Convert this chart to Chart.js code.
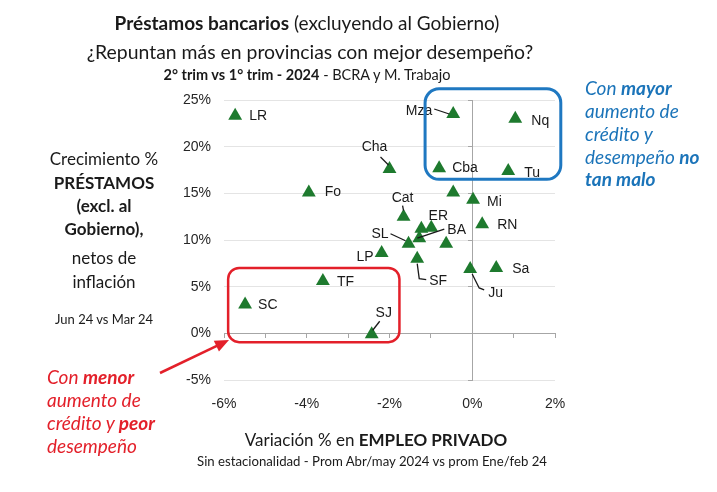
<!DOCTYPE html>
<html>
<head>
<meta charset="utf-8">
<script src="https://cdn.jsdelivr.net/npm/chart.js@4.4.1/dist/chart.umd.min.js"></script>
<style>
  body { margin: 0; background: #fff; }
  #wrap { position: relative; width: 717px; height: 492px; overflow: hidden; font-family: Lato, "Open Sans", sans-serif; color: #1a1a1a; }
  #wrap canvas { position: absolute; left: 0; top: 0; }
  .t { position: absolute; white-space: nowrap; }
  .c { transform: translateX(-50%); }
  .red { color: #e3202a; font-style: italic; }
  .blue { color: #1b74b9; font-style: italic; }
</style>
</head>
<body>
<div id="wrap">
  <canvas id="chart" width="717" height="492"></canvas>

  <div class="t c" style="left:307px;top:11px;font-size:19px;line-height:24px"><b>Préstamos bancarios</b> (excluyendo al Gobierno)</div>
  <div class="t c" style="left:310px;top:39px;font-size:19.4px;line-height:26px">¿Repuntan más en provincias con mejor desempeño?</div>
  <div class="t c" style="left:307px;top:66px;font-size:14.5px;line-height:18px"><b>2° trim vs 1° trim - 2024</b> - BCRA y M. Trabajo</div>

  <div class="t c" style="left:104px;top:148px;font-size:17px;line-height:22px">Crecimiento %</div>
  <div class="t c" style="left:104px;top:172px;font-size:17px;line-height:22px"><b>PRÉSTAMOS</b></div>
  <div class="t c" style="left:104px;top:195px;font-size:17px;line-height:22px"><b>(excl. al</b></div>
  <div class="t c" style="left:104px;top:218px;font-size:17px;line-height:22px"><b>Gobierno),</b></div>
  <div class="t c" style="left:104px;top:247px;font-size:17px;line-height:22px">netos de</div>
  <div class="t c" style="left:104px;top:271px;font-size:17px;line-height:22px">inflación</div>
  <div class="t c" style="left:104px;top:311px;font-size:13px;line-height:16px">Jun 24 vs Mar 24</div>

  <div class="t red" style="left:47px;top:366px;font-size:19px;line-height:22px">Con <b>menor</b></div>
  <div class="t red" style="left:47px;top:389px;font-size:19px;line-height:22px">aumento de</div>
  <div class="t red" style="left:47px;top:412px;font-size:19px;line-height:22px">crédito y <b>peor</b></div>
  <div class="t red" style="left:47px;top:435px;font-size:19px;line-height:22px">desempeño</div>

  <div class="t blue" style="left:585px;top:77px;font-size:19px;line-height:22px">Con <b>mayor</b></div>
  <div class="t blue" style="left:585px;top:100px;font-size:19px;line-height:22px">aumento de</div>
  <div class="t blue" style="left:585px;top:123px;font-size:19px;line-height:22px">crédito y</div>
  <div class="t blue" style="left:585px;top:146px;font-size:19px;line-height:22px">desempeño <b>no</b></div>
  <div class="t blue" style="left:585px;top:168px;font-size:19px;line-height:22px"><b>tan malo</b></div>

  <div class="t c" style="left:376px;top:428px;font-size:17px;line-height:24px">Variación % en <b>EMPLEO PRIVADO</b></div>
  <div class="t c" style="left:372px;top:453px;font-size:13.2px;line-height:16px">Sin estacionalidad - Prom Abr/may 2024 vs prom Ene/feb 24</div>
</div>

<script>
// Provinces (empty name = point without a label in the original)
const provinces = ['LR', 'Fo', 'Cha', 'Mza', 'Nq', 'Cba', 'Tu', '', 'Mi', 'Cat', 'ER', '', 'BA',
                   'RN', 'SL', '', 'LP', 'SF', 'Ju', 'Sa', 'TF', 'SC', 'SJ'];

// Private employment change, % (x)
const employmentChange = [-5.73, -3.95, -2.0, -0.46, 1.04, -0.80, 0.87, -0.46, 0.02, -1.66, -0.99, -1.23, -1.28,
                          0.24, -1.54, -0.63, -2.19, -1.33, -0.05, 0.58, -3.61, -5.49, -2.43];

// Loan growth net of inflation, % (y)
const loanGrowth = [23.3, 15.1, 17.6, 23.5, 23.0, 17.7, 17.4, 15.1, 14.3, 12.5, 11.3, 11.2, 10.2,
                    11.7, 9.6, 9.6, 8.6, 8.0, 6.9, 7.0, 5.6, 3.1, -0.1];

// Tick labels
const xTicks = [-6, -4, -2, 0, 2];
const yTicks = [-5, 0, 5, 10, 15, 20, 25];

// Where each province label sits relative to its point (pixels), plus optional leader line
const labelLayout = {
  LR:  { dx: 14, dy: 0 },
  Fo:  { dx: 16, dy: 0 },
  Cha: { dx: -15, dy: -22, align: 'center', line: [[-9, -12], [-1, -4]] },
  Mza: { dx: -21, dy: -3, align: 'right', line: [[-19, -5], [-4, 0]] },
  Nq:  { dx: 16, dy: 2 },
  Cba: { dx: 13, dy: 0 },
  Tu:  { dx: 16, dy: 2 },
  Mi:  { dx: 14, dy: 2 },
  Cat: { dx: -1, dy: -19, align: 'center', line: [[-1, -11], [0, -6]] },
  ER:  { dx: 7, dy: -12, align: 'center' },
  BA:  { dx: 28, dy: -8, line: [[25, -9], [-2, 0]] },
  RN:  { dx: 15, dy: 1 },
  SL:  { dx: -20, dy: -10, align: 'right', line: [[-18, -10], [-3, -3]] },
  LP:  { dx: -8, dy: 4, align: 'right' },
  SF:  { dx: 12, dy: 22, line: [[0, 5], [2, 20], [9, 21]] },
  Ju:  { dx: 18, dy: 24, line: [[2, 5], [9, 19], [14, 21]] },
  Sa:  { dx: 16, dy: 1 },
  TF:  { dx: 14, dy: 1 },
  SC:  { dx: 13, dy: 1 },
  SJ:  { dx: 12, dy: -21, align: 'center', line: [[8, -13], [1, -4]] }
};

const tickFont = { family: '"Liberation Sans", Arial, sans-serif', size: 14 };
const axisGray = '#a6a6a6';

// Province labels with leader lines
const pointLabels = {
  id: 'pointLabels',
  afterDatasetsDraw(chart) {
    const ctx = chart.ctx;
    const meta = chart.getDatasetMeta(0);
    ctx.save();
    ctx.font = '14px "Liberation Sans", Arial, sans-serif';
    ctx.textBaseline = 'middle';
    ctx.fillStyle = '#1a1a1a';
    ctx.strokeStyle = '#1a1a1a';
    ctx.lineWidth = 1.3;
    meta.data.forEach((pt, i) => {
      const name = provinces[i];
      const lay = labelLayout[name];
      if (!lay) return;
      if (lay.line) {
        ctx.beginPath();
        lay.line.forEach(([lx, ly], k) => {
          if (k === 0) ctx.moveTo(pt.x + lx, pt.y + ly);
          else ctx.lineTo(pt.x + lx, pt.y + ly);
        });
        ctx.stroke();
      }
      ctx.textAlign = lay.align || 'left';
      ctx.fillText(name, pt.x + lay.dx, pt.y + lay.dy);
    });
    ctx.restore();
  }
};

// Rounded highlight boxes (in data units) and the red arrow
const highlightBoxes = [
  { x0: -5.9, x1: -1.76, y0: 7.0, y1: -0.95, color: '#e3202a', width: 2.5, r: 11 },
  { x0: -1.14, x1: 2.14, y0: 26.2, y1: 16.5, color: '#1f78c1', width: 3, r: 14 }
];

function roundRect(ctx, x, y, w, h, r) {
  ctx.beginPath();
  ctx.moveTo(x + r, y);
  ctx.arcTo(x + w, y, x + w, y + h, r);
  ctx.arcTo(x + w, y + h, x, y + h, r);
  ctx.arcTo(x, y + h, x, y, r);
  ctx.arcTo(x, y, x + w, y, r);
  ctx.closePath();
}

const annotations = {
  id: 'annotations',
  afterDraw(chart) {
    const ctx = chart.ctx;
    const xs = chart.scales.x, ys = chart.scales.y;
    ctx.save();
    highlightBoxes.forEach(b => {
      const left = xs.getPixelForValue(b.x0), right = xs.getPixelForValue(b.x1);
      const top = ys.getPixelForValue(b.y0), bottom = ys.getPixelForValue(b.y1);
      ctx.strokeStyle = b.color;
      ctx.lineWidth = b.width;
      roundRect(ctx, left, top, right - left, bottom - top, b.r);
      ctx.stroke();
    });
    // red arrow pointing to the low-low box
    const ax = 160, ay = 373, bx = 229, by = 340;
    const ang = Math.atan2(by - ay, bx - ax);
    ctx.strokeStyle = '#e3202a';
    ctx.fillStyle = '#e3202a';
    ctx.lineWidth = 2.5;
    ctx.beginPath();
    ctx.moveTo(ax, ay);
    ctx.lineTo(bx - 10 * Math.cos(ang), by - 10 * Math.sin(ang));
    ctx.stroke();
    ctx.beginPath();
    ctx.moveTo(bx, by);
    ctx.lineTo(bx - 14 * Math.cos(ang) + 6 * Math.sin(ang), by - 14 * Math.sin(ang) - 6 * Math.cos(ang));
    ctx.lineTo(bx - 14 * Math.cos(ang) - 6 * Math.sin(ang), by - 14 * Math.sin(ang) + 6 * Math.cos(ang));
    ctx.closePath();
    ctx.fill();
    ctx.restore();
  }
};

const points = employmentChange.map((v, i) => ({ x: v, y: loanGrowth[i] }));

new Chart(document.getElementById('chart'), {
  type: 'scatter',
  data: {
    datasets: [{
      data: points,
      pointStyle: 'triangle',
      pointRadius: 8,
      pointHoverRadius: 8,
      backgroundColor: '#1e7a2e',
      borderColor: '#1e7a2e',
      borderWidth: 0
    }]
  },
  options: {
    responsive: false,
    animation: false,
    events: [],
    layout: { padding: { left: 0, top: 100, right: 162, bottom: 82 } },
    plugins: { legend: { display: false }, tooltip: { enabled: false } },
    scales: {
      x: {
        type: 'linear', min: -6, max: 2, position: 'bottom',
        afterBuildTicks: s => { s.ticks = xTicks.map(v => ({ value: v })); },
        ticks: { padding: 8, color: '#262626', font: tickFont, callback: v => v + '%' },
        grid: { display: false },
        border: { display: false },
        afterFit: s => { s.height = 30; }
      },
      y: {
        type: 'linear', min: -5, max: 25, position: 'left',
        afterBuildTicks: s => { s.ticks = yTicks.map(v => ({ value: v })); },
        ticks: { padding: 13, color: '#262626', font: tickFont, callback: v => v + '%' },
        grid: { color: '#e4e4e4', drawTicks: false },
        border: { display: false },
        afterFit: s => { s.width = 224; }
      },
      xZero: {
        type: 'linear', axis: 'x', min: -6, max: 2, position: { y: 0 },
        ticks: { display: false, stepSize: 1 },
        grid: { drawOnChartArea: false, tickLength: 4, color: axisGray },
        border: { color: axisGray }
      },
      yZero: {
        type: 'linear', axis: 'y', min: -5, max: 25, position: { x: 0 },
        ticks: { display: false, stepSize: 5 },
        grid: { drawOnChartArea: false, tickLength: 4, color: axisGray },
        border: { color: axisGray }
      }
    }
  },
  plugins: [pointLabels, annotations]
});
</script>
</body>
</html>
